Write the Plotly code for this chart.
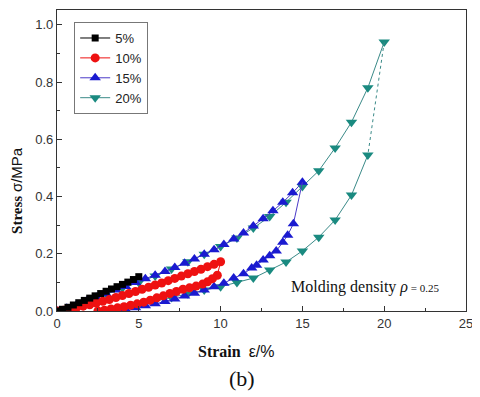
import plotly.graph_objects as go

# ---- data (strain %, stress MPa) ----
s5_load_x = [0, 0.33, 0.67, 1.0, 1.33, 1.67, 2.0, 2.33, 2.67, 3.0, 3.33, 3.67, 4.0, 4.33, 4.67, 5.0]
s5_load_y = [0.0, 0.006, 0.013, 0.021, 0.029, 0.037, 0.045, 0.053, 0.061, 0.069, 0.077, 0.085, 0.093, 0.101, 0.11, 0.12]

s10_load_x = [0, 0.4, 0.8, 1.2, 1.6, 2.0, 2.4, 2.8, 3.2, 3.6, 4.0, 4.4, 4.8, 5.2, 5.6, 6.0, 6.4, 6.8, 7.2, 7.6, 8.0, 8.4, 8.8, 9.2, 9.6, 10.0]
s10_load_y = [0.0, 0.003, 0.007, 0.012, 0.017, 0.022, 0.028, 0.034, 0.04, 0.047, 0.054, 0.061, 0.068, 0.076, 0.083, 0.091, 0.098, 0.106, 0.114, 0.122, 0.13, 0.138, 0.146, 0.155, 0.163, 0.172]
s10_unload_x = [9.8, 9.5, 9.2, 8.9, 8.5, 8.1, 7.7, 7.3, 6.9, 6.5, 6.1, 5.7, 5.3, 4.9, 4.5, 4.1, 3.7, 3.3, 2.9, 2.5]
s10_unload_y = [0.125, 0.113, 0.102, 0.094, 0.087, 0.081, 0.076, 0.068, 0.061, 0.053, 0.046, 0.038, 0.031, 0.025, 0.02, 0.015, 0.011, 0.007, 0.003, 0.0]

s15_load_x = [0, 0.6, 1.2, 1.8, 2.4, 3.0, 3.6, 4.2, 4.8, 5.4, 6.0, 6.6, 7.2, 7.8, 8.4, 9.0, 9.6, 10.2, 10.8, 11.4, 12.0, 12.6, 13.2, 13.8, 14.4, 15.0]
s15_load_y = [0.0, 0.01, 0.022, 0.035, 0.048, 0.06, 0.073, 0.086, 0.1, 0.113, 0.125, 0.138, 0.152, 0.167, 0.182, 0.198, 0.214, 0.232, 0.252, 0.273, 0.297, 0.322, 0.35, 0.38, 0.413, 0.45]
s15_unload_x = [14.45, 14.1, 13.8, 13.4, 13.0, 12.6, 12.2, 11.9, 11.4, 10.8, 10.2, 9.6, 9.0, 8.4, 7.8, 7.2, 6.6, 6.0, 5.4, 4.8, 4.2, 3.6]
s15_unload_y = [0.305, 0.265, 0.24, 0.21, 0.193, 0.178, 0.16, 0.15, 0.13, 0.115, 0.097, 0.085, 0.073, 0.062, 0.052, 0.042, 0.033, 0.025, 0.018, 0.011, 0.005, 0.001]

s20_load_x = [0, 1, 2, 3, 4, 5, 6, 7, 8, 9, 10, 11, 12, 13, 14, 15, 16, 17, 18, 19, 20]
s20_load_y = [0.0, 0.015, 0.038, 0.06, 0.08, 0.1, 0.122, 0.147, 0.172, 0.198, 0.225, 0.255, 0.29, 0.33, 0.38, 0.435, 0.49, 0.57, 0.66, 0.78, 0.94]
s20_unload_x = [19, 18, 17, 16, 15, 14, 13, 12, 11, 10, 9, 8, 7, 6, 5, 4, 3.3]
s20_unload_y = [0.545, 0.405, 0.318, 0.258, 0.21, 0.171, 0.143, 0.115, 0.1, 0.085, 0.073, 0.06, 0.047, 0.035, 0.022, 0.01, 0.0]

labels = ["5%", "10%", "15%", "20%"]
colors = ["#000000", "#ee1111", "#1a1ad0", "#1a8a80"]
line_colors = ["#000000", "#ee1111", "#4a3ac8", "#3a8a88"]

fig = go.Figure()

def add_series(lx, ly, ux, uy, i, symbol, size, dash_conn):
    c, lc = colors[i], line_colors[i]
    mk = dict(symbol=symbol, size=size, color=c)
    fig.add_trace(go.Scatter(x=lx, y=ly, mode="lines+markers", name=labels[i],
                             legendrank=i + 1, marker=mk, line=dict(color=lc, width=1)))
    if ux:
        fig.add_trace(go.Scatter(x=[lx[-1], ux[0]], y=[ly[-1], uy[0]], mode="lines",
                                 showlegend=False, line=dict(color=lc, width=1, dash=dash_conn)))
        fig.add_trace(go.Scatter(x=ux, y=uy, mode="lines+markers", showlegend=False,
                                 marker=mk, line=dict(color=lc, width=1)))

add_series(s20_load_x, s20_load_y, s20_unload_x, s20_unload_y, 3, "triangle-down", 10, "dot")
add_series(s15_load_x, s15_load_y, s15_unload_x, s15_unload_y, 2, "triangle-up", 10, "solid")
add_series(s10_load_x, s10_load_y, s10_unload_x, s10_unload_y, 1, "circle", 9, "solid")
add_series(s5_load_x, s5_load_y, [], [], 0, "square", 7, "solid")

axis_common = dict(showline=True, linecolor="#333", linewidth=1.2, mirror=True,
                   ticks="inside", ticklen=5, tickcolor="#333", showgrid=False, zeroline=False,
                   tickfont=dict(family="Liberation Sans, Arial", size=13, color="#333"))

fig.update_xaxes(range=[0, 25], dtick=5, tick0=0,
                 minor=dict(dtick=2.5, ticks="inside", ticklen=3, tickcolor="#333"), **axis_common)
fig.update_yaxes(range=[0, 1.052], dtick=0.2, tick0=0, tickformat=".1f",
                 minor=dict(dtick=0.1, ticks="inside", ticklen=3, tickcolor="#333"), **axis_common)

# page body adds an 8px margin on left/top; compensate in the figure size/margins
fig.update_layout(
    width=472, height=389,
    margin=dict(l=49, r=14, t=2, b=86),
    paper_bgcolor="white", plot_bgcolor="white",
    legend=dict(x=0.042, y=0.96, xanchor="left", yanchor="top",
                bordercolor="#777", borderwidth=1, bgcolor="white",
                font=dict(family="Liberation Sans, Arial", size=13, color="#222"),
                tracegroupgap=0, itemwidth=30),
    annotations=[
        dict(x=14.2, y=0.084, xref="x", yref="y", xanchor="left", yanchor="middle",
             showarrow=False,
             text="Molding density <i>ρ</i><span style='font-size:11px'> = 0.25</span>",
             font=dict(family="Liberation Serif, Times New Roman", size=16, color="#111")),
        dict(x=0.438, y=-0.136, xref="paper", yref="paper", xanchor="center", yanchor="middle",
             showarrow=False,
             text="<b>Strain</b>  <span style='font-family:Liberation Sans'>ε/%</span>",
             font=dict(family="Liberation Serif, Times New Roman", size=16, color="#111")),
        dict(x=-0.098, y=0.402, xref="paper", yref="paper", xanchor="center", yanchor="middle",
             showarrow=False, textangle=-90,
             text="<b>Stress</b> <span style='font-family:Liberation Sans'>σ/MPa</span>",
             font=dict(family="Liberation Serif, Times New Roman", size=15, color="#111")),
        dict(x=0.452, y=-0.223, xref="paper", yref="paper", xanchor="center", yanchor="middle",
             showarrow=False, text="(b)",
             font=dict(family="Liberation Serif, Times New Roman", size=22, color="#111")),
    ],
)

fig.write_html("out.html")
